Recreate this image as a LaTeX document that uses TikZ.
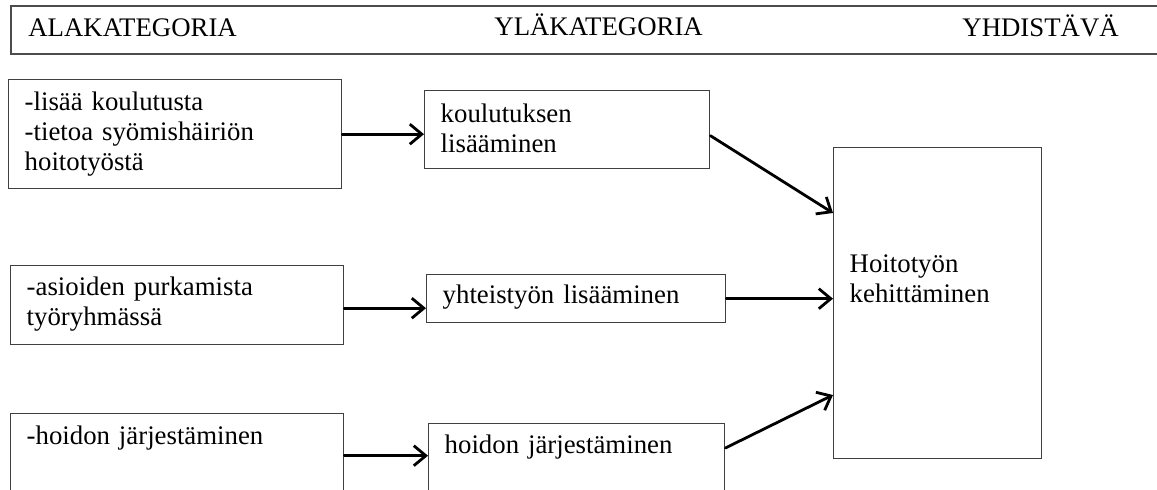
\documentclass[tikz,border=0pt]{standalone}
\usepackage{fontspec}
\setmainfont{Liberation Serif}
\usetikzlibrary{arrows.meta,calc}

\tikzset{
  box/.style={draw=black!75, line width=0.7pt, anchor=north west,
    inner xsep=8pt, inner ysep=0pt, align=left},
  head/.style={anchor=base west, inner sep=0pt},
  arr/.style={line width=1.4pt, line cap=round,
    -{Straight Barb[length=6pt,width=10pt]}},
}

\begin{document}
\begin{tikzpicture}[x=0.5pt,y=-0.5pt,font=\fontsize{13.4}{15}\selectfont]
  \useasboundingbox (0,0) rectangle (1157,490);
  \clip (0,0) rectangle (1157,490);

  % otsikkorivi
  \node[box, draw=black!70, line width=1pt, minimum width=590pt, minimum height=24pt] (hdr) at (10,5) {};
  \node[head] (alak) at (28,37) {ALAKATEGORIA};
  \node[head] (ylak) at (494,36) {YLÄKATEGORIA};
  \node[head] (yhd) at (962,37) {YHDISTÄVÄ};

  % alakategoriat
  \node[box, text width=150.5pt, text height=15.5pt, text depth=39pt] (a1) at (8,79)
    {-lisää koulutusta\\-tietoa syömishäiriön\\hoitotyöstä};
  \node[box, text width=150.5pt, text height=15pt, text depth=24.5pt] (a2) at (10,265)
    {-asioiden purkamista\\työryhmässä};
  \node[box, text width=150.5pt, text height=15.5pt, text depth=26.5pt] (a3) at (10,413)
    {-hoidon järjestäminen};

  % yläkategoriat
  \node[box, text width=126.5pt, text height=16pt, text depth=23pt] (b1) at (424,90)
    {koulutuksen\\lisääminen};
  \node[box, text width=133.5pt, text height=14.5pt, text depth=9.5pt] (b2) at (426,274)
    {yhteistyön lisääminen};
  \node[box, text width=132pt, text height=15pt, text depth=26pt] (b3) at (428,423)
    {hoidon järjestäminen};

  % yhdistävä
  \node[box, text width=88pt, text height=62.5pt, text depth=93pt] (c) at (833,147)
    {Hoitotyön\\kehittäminen};

  \draw[arr] (a1.east) -- (a1.east -| b1.west);
  \draw[arr] ([yshift=-1.5pt]a2.east) -- ([yshift=-1.5pt]a2.east -| b2.west);
  \draw[arr] (a3.east) -- (a3.east -| b3.west);

  \draw[arr] ([yshift=-3pt]b1.east) -- ($(c.north west)+(0,66)$);
  \draw[arr] (b2.east) -- (b2.east -| c.west);
  \draw[arr] ($(b3.north east)+(0,25)$) -- ($(c.north west)+(0,248)$);
\end{tikzpicture}
\end{document}
